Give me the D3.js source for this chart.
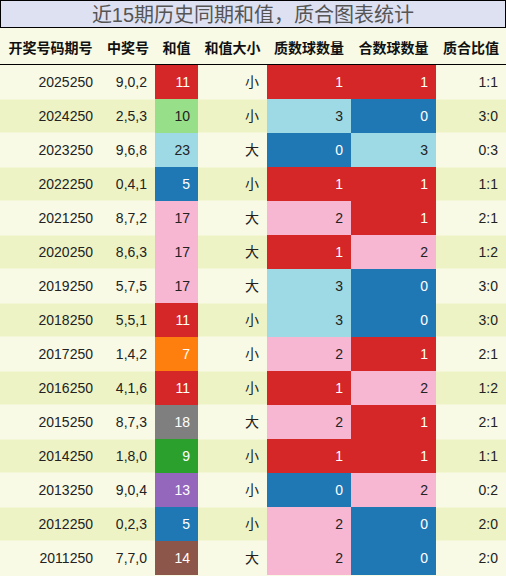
<!DOCTYPE html><html><head><meta charset="utf-8"><script src="https://cdn.jsdelivr.net/npm/d3@7"></script>
<style>body{margin:0;background:#fff}</style></head><body><svg id="c" width="506" height="576"></svg>
<script>
const title="近15期历史同期和值，质合图表统计";
const headers=["开奖号码期号","中奖号","和值","和值大小","质数球数量","合数球数量","质合比值"];
const periods=["2025250","2024250","2023250","2022250","2021250","2020250","2019250","2018250","2017250","2016250","2015250","2014250","2013250","2012250","2011250"];
const numbers=["9,0,2","2,5,3","9,6,8","0,4,1","8,7,2","8,6,3","5,7,5","5,5,1","1,4,2","4,1,6","8,7,3","1,8,0","9,0,4","0,2,3","7,7,0"];
const sums=[11,10,23,5,17,17,17,11,7,11,18,9,13,5,14];
const sizes=["小","小","大","小","大","大","大","小","小","小","大","小","小","小","大"];
const primes=[1,3,0,1,2,1,3,3,2,1,2,1,0,2,2];
const composites=[1,0,3,1,1,2,0,0,1,2,1,1,2,0,0];
const ratios=["1:1","3:0","0:3","1:1","2:1","1:2","3:0","3:0","2:1","1:2","2:1","1:1","0:2","2:0","2:0"];
const sumColor={11:"#d62728",10:"#98df8a",23:"#9edae5",5:"#1f77b4",17:"#f7b6d2",7:"#ff7f0e",18:"#7f7f7f",9:"#2ca02c",13:"#9467bd",14:"#8c564b"};
const cntColor={0:"#1f77b4",1:"#d62728",2:"#f7b6d2",3:"#9edae5"};
const edges=[0,101,155,198,267,351,436,506];
const svg=d3.select("#c");
const y=d3.scaleBand().domain(d3.range(15)).range([65,575]);
const font="'Liberation Sans','Noto Sans CJK SC',sans-serif";
svg.append("rect").attr("x",0).attr("y",28).attr("width",506).attr("height",548).attr("fill","#f8fae6");
svg.append("rect").attr("x",0.5).attr("y",0.5).attr("width",505).attr("height",27).attr("fill","#dde1f2").attr("stroke","#000");
svg.append("text").attr("x",253).attr("y",22).attr("text-anchor","middle").attr("font-size",20).attr("fill","#555").attr("font-family",font).text(title);
headers.forEach((h,i)=>svg.append("text").attr("x",(edges[i]+edges[i+1])/2).attr("y",53).attr("text-anchor","middle").attr("font-weight","bold").attr("font-size",14).attr("font-family",font).attr("fill","#111").text(h));
svg.append("line").attr("x1",0).attr("x2",506).attr("y1",64.5).attr("y2",64.5).attr("stroke","#000");
const g=svg.selectAll("g.r").data(d3.range(15)).join("g").attr("transform",i=>`translate(0,${y(i)})`);
g.append("rect").attr("width",506).attr("height",y.bandwidth()-1).attr("y",0.5).attr("fill",i=>i%2?"#eef3c6":"#f8fae6");
const cols=[i=>periods[i],i=>numbers[i],i=>sums[i],i=>sizes[i],i=>primes[i],i=>composites[i],i=>ratios[i]];
const fills=[null,null,i=>sumColor[sums[i]],null,i=>cntColor[primes[i]],i=>cntColor[composites[i]],null];
const dark=c=>["#d62728","#1f77b4","#ff7f0e","#7f7f7f","#2ca02c","#9467bd","#8c564b"].includes(c);
cols.forEach((f,c)=>{
 if(fills[c]) g.append("rect").attr("x",edges[c]).attr("width",edges[c+1]-edges[c]).attr("height",y.bandwidth()).attr("fill",fills[c]);
 g.append("text").attr("x",edges[c+1]-8).attr("y",y.bandwidth()/2+5).attr("text-anchor","end").attr("font-size",14).attr("font-family",font)
  .attr("fill",i=>fills[c]&&dark(fills[c](i))?"#fff":"#222").text(f);
});
</script></body></html>
